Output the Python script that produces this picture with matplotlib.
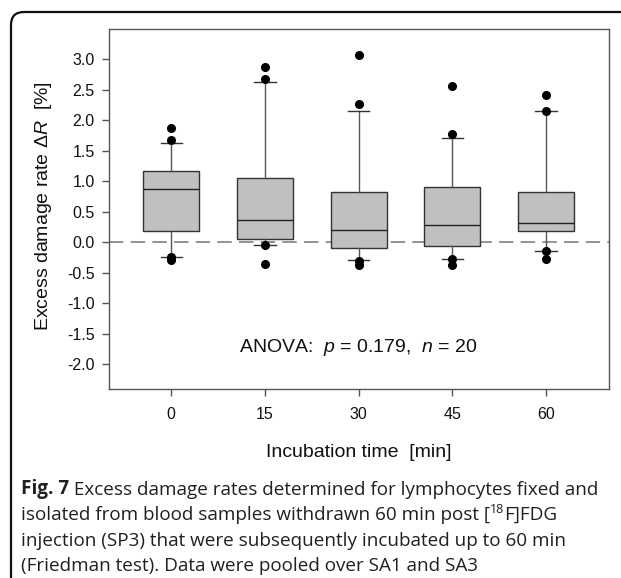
import matplotlib
matplotlib.use("Agg")
import matplotlib.pyplot as plt
from matplotlib.patches import FancyBboxPatch

plt.rcParams["font.family"] = ["Liberation Sans", "DejaVu Sans"]
plt.rcParams["mathtext.fontset"] = "custom"
plt.rcParams["mathtext.rm"] = "Liberation Sans"
plt.rcParams["mathtext.it"] = "Liberation Sans:italic"

# 孵育时间 (min) 与各组箱线图统计量
times = [0, 15, 30, 45, 60]
medians = [0.87, 0.37, 0.20, 0.28, 0.31]
q1s = [0.18, 0.05, -0.09, -0.06, 0.18]
q3s = [1.17, 1.05, 0.83, 0.90, 0.82]
whis_lo = [-0.24, -0.04, -0.30, -0.28, -0.15]
whis_hi = [1.62, 2.63, 2.16, 1.71, 2.16]
outliers = [
    [1.88, 1.67, -0.25, -0.30],
    [2.87, 2.68, -0.04, -0.36],
    [3.07, 2.27, -0.31, -0.37],
    [2.56, 1.77, -0.27, -0.38],
    [2.41, 2.16, -0.15, -0.28],
]
yticks = [-2.0, -1.5, -1.0, -0.5, 0.0, 0.5, 1.0, 1.5, 2.0, 2.5, 3.0]

caption_lines = [
    "Excess damage rates determined for lymphocytes fixed and",
    "isolated from blood samples withdrawn 60 min post [",
    "injection (SP3) that were subsequently incubated up to 60 min",
    "(Friedman test). Data were pooled over SA1 and SA3",
]

fig = plt.figure(figsize=(6.21, 5.78), dpi=100)

# 背景层: 圆角边框和图注 (像素坐标)
bg = fig.add_axes([0, 0, 1, 1], zorder=0)
bg.set_xlim(0, 621)
bg.set_ylim(578, 0)
bg.axis("off")
frame = FancyBboxPatch((11, 12), 660, 620, boxstyle="round,pad=0,rounding_size=13",
                       fc="none", ec="#111111", lw=1.6)
bg.add_patch(frame)

cap_font = dict(family=["Open Sans", "DejaVu Sans"], fontsize=13.6, color="#231f20")
cap_x = 21
cap_y0 = 489
cap_dy = 25.8
t = bg.text(cap_x, cap_y0, "Fig. 7", fontweight="bold", va="center", **cap_font)
bg.annotate(" " + caption_lines[0], xy=(1, 0), xycoords=t, va="bottom", **cap_font)
t = bg.text(cap_x, cap_y0 + cap_dy, caption_lines[1], va="center", **cap_font)
sup = bg.annotate("18", xy=(1, 0.42), xycoords=t, xytext=(-0.3, 0),
                  textcoords="offset points", va="bottom",
                  family=["Open Sans", "DejaVu Sans"], fontsize=9, color="#231f20")
bg.annotate("F]FDG", xy=(1, 0), xycoords=(sup, t), va="bottom", **cap_font)
bg.text(cap_x, cap_y0 + 2 * cap_dy, caption_lines[2], va="center", **cap_font)
bg.text(cap_x, cap_y0 + 3 * cap_dy, caption_lines[3], va="center", **cap_font)

# 主图
ax = fig.add_axes([0.175, 0.327, 0.805, 0.622], zorder=1)
ax.patch.set_alpha(0)

stats = []
for i in range(len(times)):
    stats.append(dict(med=medians[i], q1=q1s[i], q3=q3s[i],
                      whislo=whis_lo[i], whishi=whis_hi[i], fliers=outliers[i]))

ax.axhline(0.0, color="#8a8a8a", lw=1.3, dashes=(8, 4), zorder=1)
ax.bxp(stats, positions=times, widths=9, capwidths=3.4, patch_artist=True,
       showfliers=True,
       boxprops=dict(facecolor="#c0c0c0", edgecolor="#333333", lw=1.0),
       medianprops=dict(color="#222222", lw=1.0),
       whiskerprops=dict(color="#555555", lw=1.0),
       capprops=dict(color="#333333", lw=1.0),
       flierprops=dict(marker="o", markerfacecolor="black", markeredgecolor="black",
                       markersize=5.5))

ax.set_xlim(-10, 70)
ax.set_ylim(-2.41, 3.49)
ax.set_xticks(times)
ax.set_xticklabels([str(v) for v in times])
ax.set_yticks(yticks)
ax.set_yticklabels([f"{v:.1f}" for v in yticks])
for s in ax.spines.values():
    s.set_color("#555555")
    s.set_linewidth(1.0)
ax.tick_params(direction="out", length=5, width=1, color="#555555",
               labelsize=11.5, labelcolor="#111111")
ax.tick_params(axis="x", pad=8)
ax.tick_params(axis="y", pad=5)

ax.set_xlabel("Incubation time  [min]", fontsize=14, color="#111111", va="center")
ax.xaxis.set_label_coords(0.5, -0.178)
ax.set_ylabel(r"Excess damage rate $\Delta\mathit{R}$  [%]", fontsize=14,
              color="#111111", va="center", ha="center")
ax.yaxis.set_label_coords(-0.131, 0.51)

ax.text(30, -1.73, r"ANOVA:  $\mathit{p}$ = 0.179,  $\mathit{n}$ = 20",
        ha="center", va="center", fontsize=14, color="#111111")

fig.savefig("out.png", dpi=100)
